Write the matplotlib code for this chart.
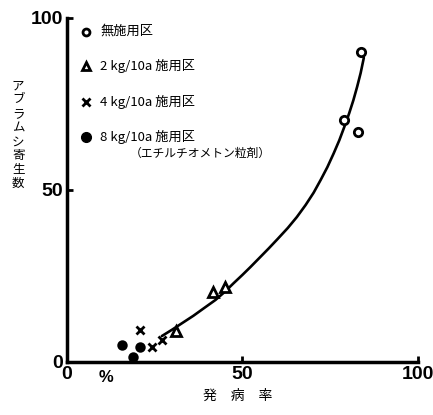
import matplotlib
matplotlib.use("Agg")
import matplotlib.pyplot as plt

plt.rcParams['font.family'] = ['Noto Sans CJK JP', 'DejaVu Sans']

# Data
none_x = [83.7, 78.9, 82.9]
none_y = [90.0, 70.3, 66.9]
kg2_x = [41.7, 44.9, 31.1]
kg2_y = [20.3, 21.8, 9.0]
kg4_x = [20.9, 24.2, 27.0]
kg4_y = [9.3, 4.4, 6.4]
kg8_x = [15.7, 20.9, 18.9]
kg8_y = [4.9, 4.4, 1.5]
curve_x = [27.0, 30.0, 33.0, 36.0, 39.0, 42.3, 45.0, 47.4, 50.0, 52.3, 55.0, 57.5, 60.0,
           62.9, 65.5, 68.0, 70.3, 72.3, 74.2, 76.0, 77.6, 79.0, 80.4, 81.6, 82.7, 83.7, 84.6]
curve_y = [7.5, 9.4, 11.4, 13.4, 15.6, 18.0, 20.4, 22.8, 25.3, 27.6, 30.4, 33.0, 35.7,
           38.9, 42.1, 45.6, 49.2, 52.9, 56.6, 60.6, 64.4, 68.2, 72.2, 76.0, 80.0, 84.0, 88.4]

legend_labels = ["無施用区", "2 kg/10a 施用区", "4 kg/10a 施用区", "8 kg/10a 施用区"]
legend_sub = "（エチルチオメトン粒剤）"
xticks = [0, 50, 100]
yticks = [0, 50, 100]

fig = plt.figure(figsize=(4.33, 4.15), dpi=100)
ax = fig.add_axes([0.155, 0.128, 0.81, 0.829])

ax.plot(curve_x, curve_y, color='black', lw=1.9, solid_capstyle='round', solid_joinstyle='round')
ms = 6
ax.plot(none_x, none_y, 'o', mfc='white', mec='black', mew=2, ms=ms, ls='none', zorder=3)
ax.plot(kg2_x, kg2_y, '^', mfc='white', mec='black', mew=2, ms=ms+1, ls='none', zorder=3)
ax.plot(kg4_x, kg4_y, 'x', color='black', mew=2, ms=ms, ls='none', zorder=3)
ax.plot(kg8_x, kg8_y, 'o', mfc='black', mec='black', mew=1.5, ms=ms, ls='none', zorder=3)

ax.set_xlim(0, 100)
ax.set_ylim(0, 100)
ax.set_xticks(xticks)
ax.set_yticks(yticks)
ax.set_xticklabels([str(v) for v in xticks], fontfamily='Liberation Sans', fontweight='bold', fontsize=14)
ax.set_yticklabels([str(v) for v in yticks], fontfamily='Liberation Sans', fontweight='bold', fontsize=14)
ax.tick_params(direction='in', length=4, width=2, pad=3)
for s in ['top', 'right']:
    ax.spines[s].set_visible(False)
for s in ['left', 'bottom']:
    ax.spines[s].set_linewidth(2.5)

# legend
markers = [dict(marker='o', mfc='white', mec='black', mew=2, ms=5),
           dict(marker='^', mfc='white', mec='black', mew=2, ms=6),
           dict(marker='x', color='black', mew=2, ms=6),
           dict(marker='o', mfc='black', mec='black', ms=7)]
rows_y = [0.96, 0.86, 0.755, 0.655]
for lab, mk, yy in zip(legend_labels, markers, rows_y):
    ax.plot([0.055], [yy], transform=ax.transAxes, ls='none', clip_on=False, **mk)
    ax.text(0.095, yy, lab, transform=ax.transAxes, fontsize=9.5, va='center', ha='left')
ax.text(0.18, 0.605, legend_sub, transform=ax.transAxes, fontsize=8.5, va='center', ha='left')

fig.text(0.042, 0.675, "\n".join("アブラムシ寄生数"), fontsize=9, ha='center', va='center',
         linespacing=1.1)
fig.text(0.55, 0.045, "発　病　率", fontsize=10, ha='center', va='center')
fig.text(0.245, 0.09, "%", fontsize=12, fontfamily='Liberation Sans', fontweight='bold',
         ha='center', va='center')

fig.savefig("out.png", dpi=100)
